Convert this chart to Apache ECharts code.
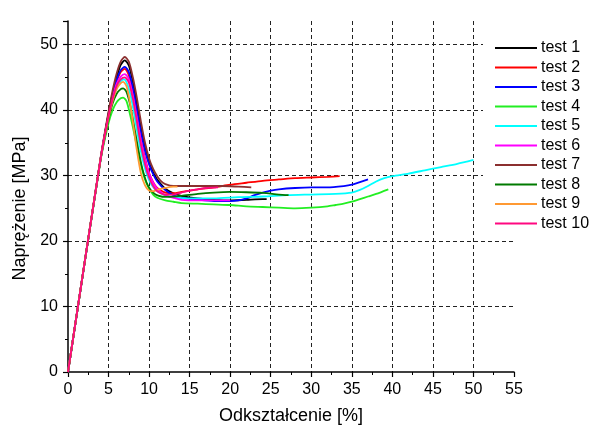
<!DOCTYPE html>
<html>
<head>
<meta charset="utf-8">
<script src="https://cdn.jsdelivr.net/npm/echarts@6/dist/echarts.min.js"></script>
<style>html,body{margin:0;padding:0;background:#fff}#c{width:593px;height:430px}</style>
</head>
<body>
<div id="c"></div>
<script>
var names = ['test 1','test 2','test 3','test 4','test 5','test 6','test 7','test 8','test 9','test 10'];
var colors = ['#000000','#ff0000','#0000ff','#22ee22','#00ffff','#ff00ff','#8b2f2f','#007a00','#ff9933','#ff0880'];
var xTicks = [0,5,10,15,20,25,30,35,40,45,50,55];
var yTicks = [0,10,20,30,40,50];

var test1 = [[0,0],[4,32.4],[5,39.5],[5.5,42.5],[6,45],[6.5,46.9],[7,47.6],[7.5,46.8],[8,44.3],[8.5,40.8],[9,37.2],[9.5,34.2],[10,32],[10.5,30.5],[11,29.4],[12,28],[13,27.3],[14,26.9],[16,26.5],[18,26.3],[20,26.2],[22,26.3],[24,26.4],[24.5,26.4]];
var test2 = [[0,0],[4,32.4],[5,39.3],[5.5,42],[6,44.3],[6.5,45.8],[7,46.3],[7.5,45.3],[8,42.6],[8.5,39],[9,35.5],[9.5,32.6],[10,30.4],[10.5,29],[11,28.1],[12,27.4],[13,27.3],[14,27.5],[16,27.9],[18,28.2],[20,28.6],[22,28.9],[24,29.2],[26,29.4],[28,29.6],[30,29.7],[32,29.8],[33.5,29.9]];
var test3 = [[0,0],[4,32.4],[5,39.4],[5.5,42.2],[6,44.6],[6.5,46.1],[7,46.6],[7.5,45.8],[8,43.4],[8.5,40],[9,36.6],[9.5,33.8],[10,31.7],[10.5,30.2],[11,29.1],[12,27.8],[13,27.0],[14,26.6],[16,26.3],[18,26.1],[20,26.1],[21,26.2],[22,26.5],[23,27.0],[24,27.4],[25,27.7],[26,27.9],[28,28.1],[30,28.2],[32,28.2],[34,28.4],[35,28.6],[36,29.0],[37,29.4]];
var test4 = [[0,0],[4,32.2],[5,38],[5.5,40],[6,41.2],[6.5,41.8],[6.8,41.9],[7.2,41.4],[7.6,39.6],[8,37.4],[8.5,34.4],[9,31.6],[9.5,29.4],[10,28],[10.5,27.1],[11,26.6],[12,26.2],[13,26.0],[14,25.8],[16,25.7],[18,25.6],[20,25.5],[22,25.3],[24,25.2],[26,25.1],[28,25.0],[30,25.1],[32,25.3],[33,25.5],[34,25.7],[35,26.0],[36,26.4],[37,26.8],[38,27.2],[39.5,27.9]];
var test5 = [[0,0],[4,32.4],[5,39],[5.5,41.5],[6,43.3],[6.5,44.4],[6.9,44.7],[7.3,44],[7.8,41.8],[8.3,38.4],[8.8,34.9],[9.3,32],[9.8,29.9],[10.3,28.6],[11,27.6],[12,27.0],[13,26.7],[15,26.5],[18,26.5],[21,26.7],[24,26.8],[27,27.0],[30,27.1],[33,27.2],[35,27.4],[36,27.8],[37,28.4],[38,29.1],[39,29.6],[40,29.9],[42,30.3],[44,30.8],[46,31.3],[48,31.8],[50,32.4]];
var test6 = [[0,0],[4,32.4],[5,39.2],[5.5,41.9],[6,44],[6.5,45.1],[7,45.5],[7.5,44.7],[8,42.2],[8.5,38.8],[9,35.3],[9.5,32.4],[10,30.3],[10.5,28.9],[11,28.0],[12,27.0],[13,26.6],[14,26.3],[16,26.2],[18,26.2],[20,26.2]];
var test7 = [[0,0],[4,32.6],[5,39.8],[5.5,43],[6,45.6],[6.5,47.4],[7,48.1],[7.5,47.4],[8,45],[8.5,41.8],[9,38.2],[9.5,35],[10,32.6],[10.5,31],[11,29.9],[11.5,29.1],[12,28.7],[13,28.4],[15,28.4],[17,28.4],[19,28.4],[21,28.3],[22.6,28.2]];
var test8 = [[0,0],[4,32.3],[5,38.6],[5.5,41],[6,42.5],[6.5,43.2],[6.8,43.3],[7.2,42.8],[7.7,40.6],[8.2,37.2],[8.7,33.8],[9.2,30.9],[9.7,28.9],[10.2,27.8],[10.8,27.1],[11.5,26.8],[12.5,26.75],[14,26.9],[16,27.2],[18,27.4],[20,27.5],[22,27.45],[24,27.35],[26,27.1],[27.2,27.0]];
var test9 = [[0,0],[4,32.4],[5,38.9],[5.5,41.4],[6,43.2],[6.5,44.1],[6.8,44.3],[7.2,43.7],[7.6,41.5],[8,38.2],[8.5,33.8],[9,30.3],[9.5,28.5],[10,27.7],[10.5,27.6],[11,27.8],[12,28.1],[13,28.3],[13.5,28.3]];
var test10 = [[0,0],[4,32.4],[5,39.1],[5.5,41.7],[6,43.7],[6.5,44.7],[7,45],[7.5,44.2],[8,41.7],[8.5,38.2],[9,34.6],[9.5,31.7],[10,29.7],[10.5,28.4],[11,27.6],[12,27.1],[13,27.1],[14,27.4],[15,27.7],[16,27.9],[17,28.1],[18.5,28.2]];

var allData = [test1,test2,test3,test4,test5,test6,test7,test8,test9,test10];

var FONT = 'Liberation Sans, Arial, sans-serif';
var chart = echarts.init(document.getElementById('c'), null, {renderer:'canvas'});
var series = names.map(function(n,i){
  return {
    name: n, type: 'line', data: allData[i], showSymbol: false, symbol: 'none',
    smooth: 0.25,
    lineStyle: {color: colors[i], width: 1.8}, itemStyle: {color: colors[i]},
    z: 2 + i
  };
});
chart.setOption({
  animation: false,
  backgroundColor: '#fff',
  grid: {left: 68, right: 79, top: 21, bottom: 58, containLabel: false},
  xAxis: {
    type: 'value', min: xTicks[0], max: xTicks[xTicks.length-1], interval: 5,
    name: 'Odkształcenie [%]', nameLocation: 'middle', nameGap: 35,
    nameTextStyle: {fontFamily: FONT, fontSize: 18, color: '#000'},
    axisLine: {show: true, onZero: false, lineStyle: {color: '#000', width: 1.5}},
    axisTick: {show: true, inside: false, length: 5, lineStyle: {color: '#000', width: 1.2}},
    minorTick: {show: true, splitNumber: 2, length: 3, lineStyle: {color: '#000', width: 1}},
    axisLabel: {fontFamily: FONT, fontSize: 16, color: '#000', margin: 10},
    splitLine: {show: true, showMinLine: false, showMaxLine: false, lineStyle: {color: '#222', type: [4,3], width: 1}}
  },
  yAxis: {
    type: 'value', min: yTicks[0], max: 53.6, interval: 10,
    name: 'Naprężenie [MPa]', nameLocation: 'middle', nameGap: 38,
    nameTextStyle: {fontFamily: FONT, fontSize: 18, color: '#000', padding: [0, 24, 0, 0]},
    axisLine: {show: true, onZero: false, lineStyle: {color: '#000', width: 1.5}},
    axisTick: {show: true, inside: false, length: 5, lineStyle: {color: '#000', width: 1.2}},
    minorTick: {show: true, splitNumber: 2, length: 3, lineStyle: {color: '#000', width: 1}},
    axisLabel: {fontFamily: FONT, fontSize: 16, color: '#000', margin: 10, showMaxLabel: false,
      formatter: function(v){ return yTicks.indexOf(v) >= 0 ? String(v) : ''; }},
    splitLine: {show: true, showMinLine: false, showMaxLine: false, lineStyle: {color: '#222', type: [4,3], width: 1}}
  },
  legend: {
    orient: 'vertical', left: 483, top: 32, padding: [8, 10, 8, 12],
    backgroundColor: '#fff', icon: 'rect', itemWidth: 42, itemHeight: 2, itemGap: 3.5,
    textStyle: {fontFamily: FONT, fontSize: 16, color: '#000', padding: [0,0,0,-1]},
    data: names, z: 20
  },
  series: series
});
</script>
</body>
</html>
